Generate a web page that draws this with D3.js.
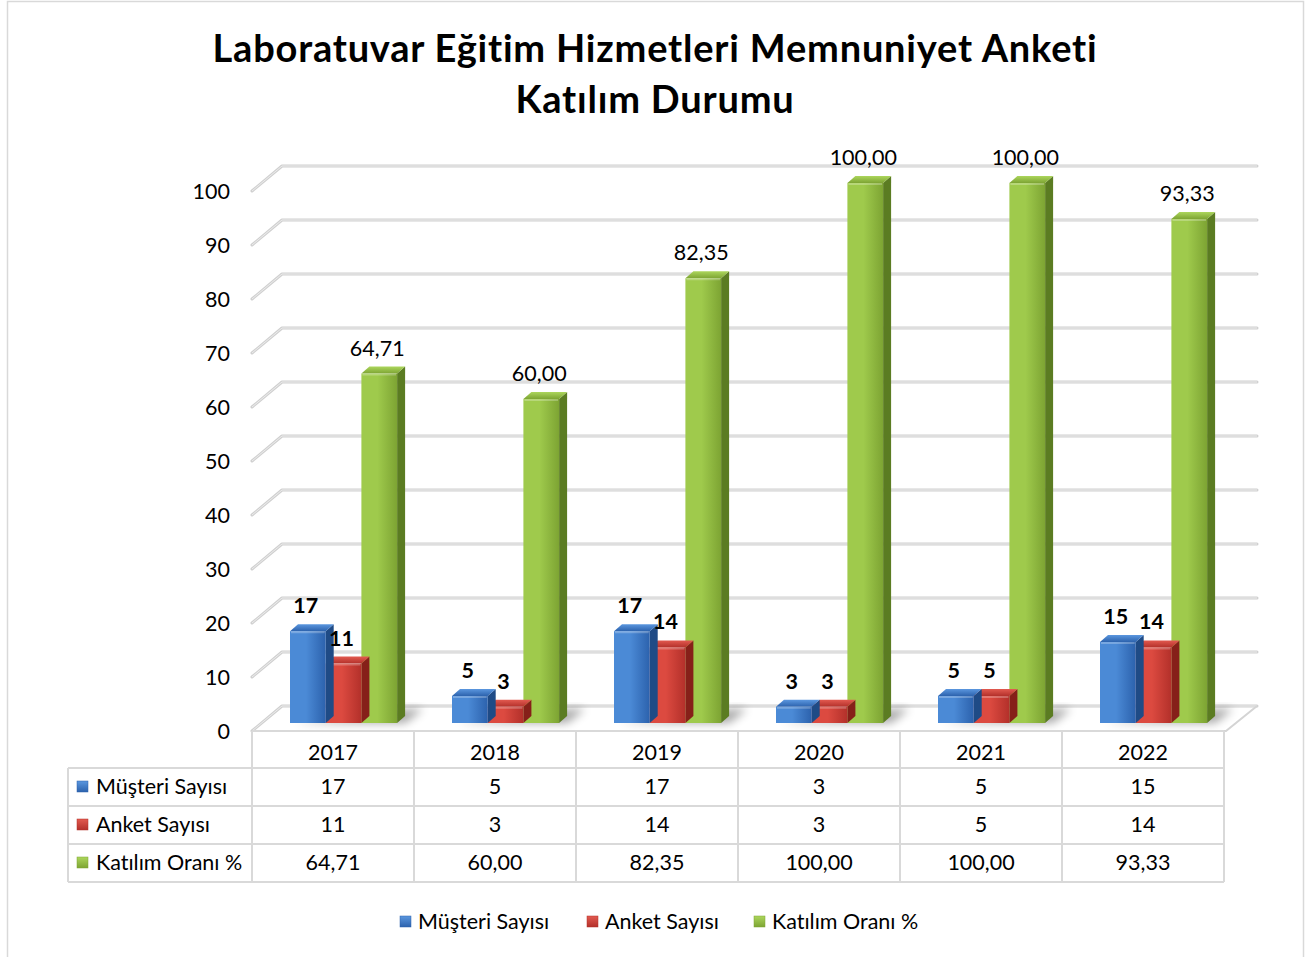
<!DOCTYPE html>
<html><head><meta charset="utf-8">
<script src="https://cdn.jsdelivr.net/npm/d3@7"></script>
<style>body{margin:0;background:#fff;}svg{display:block;font-family:Lato,"Open Sans",sans-serif;font-variant-ligatures:none;}</style>
</head><body>
<svg id="c" width="1312" height="957"></svg>
<script>
const years = ["2017","2018","2019","2020","2021","2022"];
const seriesNames = ["Müşteri Sayısı","Anket Sayısı","Katılım Oranı %"];
const musteri = [17,5,17,3,5,15];
const anket = [11,3,14,3,5,14];
const katilim = [64.71,60.00,82.35,100.00,100.00,93.33];
const yTicks = [0,10,20,30,40,50,60,70,80,90,100];
const titleLines = ["Laboratuvar Eğitim Hizmetleri Memnuniyet Anketi","Katılım Durumu"];

const FS = 21.5;
const series = [
  {name:seriesNames[0], values:musteri, bold:true, fmt:d=>String(d),
   c1:"#4b8ad6", c2:"#2c62ad", top:"#5b97df", side:"#1f4b86"},
  {name:seriesNames[1], values:anket, bold:true, fmt:d=>String(d),
   c1:"#dc4a40", c2:"#b3302a", top:"#e25a50", side:"#862019"},
  {name:seriesNames[2], values:katilim, bold:false, fmt:d=>d.toFixed(2).replace(".",","),
   c1:"#9fca4c", c2:"#7da433", top:"#acd65c", side:"#5b7c22"}
];
const fmtTable = [d=>String(d), d=>String(d), d=>d.toFixed(2).replace(".",",")];

const svg = d3.select("#c");
const defs = svg.append("defs");

// outer border
svg.append("rect").attr("x",7.5).attr("y",1.5).attr("width",1296).attr("height",964)
  .attr("fill","#fff").attr("stroke","#d9d9d9").attr("stroke-width",1.5);

// title
const title = svg.append("text").attr("text-anchor","middle").attr("font-weight","bold")
  .attr("font-size",38).attr("letter-spacing",0.8).attr("fill","#000");
titleLines.forEach((t,i)=>title.append("tspan").attr("x",655).attr("y",62+i*51).text(t));

// geometry
const x = d3.scaleBand().domain(years).range([252,1224]).padding(0);
const y = d3.scaleLinear().domain([0,100]).range([723,183]);   // bar depth plane
const DX = 30;
const yFront = v => y(v)+8;
const yBack = v => y(v)-17;
const bw = 35.7, bd = 8, bdy = 7;
const groupOff = 38;

// walls gridlines
yTicks.forEach(t=>{
  const g = svg.append("g");
  const pts = [[252,yFront(t)],[252+DX,yBack(t)],[1257,yBack(t)]];
  g.append("path").attr("d",d3.line()(pts)).attr("fill","none")
    .attr("stroke","#d0d0d0").attr("stroke-width",3).attr("stroke-linejoin","round").attr("stroke-linecap","round");
  g.append("path").attr("d",d3.line()(pts)).attr("fill","none")
    .attr("stroke","#ececec").attr("stroke-width",1);
});
// floor front edge
svg.append("path").attr("d",d3.line()([[252,731],[1226,731],[1257,706]])).attr("fill","none")
  .attr("stroke","#d4d4d4").attr("stroke-width",2);

// y axis labels
const yAxis = d3.axisLeft(d3.scaleLinear().domain([0,100]).range([yFront(0),yFront(100)]))
  .tickValues(yTicks).tickSize(0).tickPadding(0);
const ax = svg.append("g").attr("transform","translate(230,0)").call(yAxis);
ax.select(".domain").remove();
ax.selectAll("text").attr("font-size",FS).attr("font-family","Lato,'Open Sans',sans-serif").attr("fill","#000").attr("dy","0.35em");

// shadow filter
const f = defs.append("filter").attr("id","sh").attr("x","-50%").attr("y","-50%").attr("width","200%").attr("height","200%");
f.append("feGaussianBlur").attr("stdDeviation",5);

// gradients
series.forEach((s,i)=>{
  const g = defs.append("linearGradient").attr("id","g"+i).attr("x1",0).attr("x2",1).attr("y1",0).attr("y2",0);
  g.append("stop").attr("offset","0%").attr("stop-color",s.c1);
  g.append("stop").attr("offset","45%").attr("stop-color",s.c1);
  g.append("stop").attr("offset","100%").attr("stop-color",s.c2);
  const k = defs.append("linearGradient").attr("id","k"+i).attr("x1",0).attr("x2",0).attr("y1",0).attr("y2",1);
  k.append("stop").attr("offset","0%").attr("stop-color",s.top);
  k.append("stop").attr("offset","100%").attr("stop-color",s.c2);
});

const inner = d3.scaleBand().domain(d3.range(3)).range([0,bw*3]);
// shadows
years.forEach((yr,j)=>{
  const x0 = x(yr)+groupOff;
  svg.append("path").attr("filter","url(#sh)").attr("fill","#000").attr("opacity",0.35)
    .attr("d",d3.line()([[x0+4,y(0)],[x0+bw*3+bd,y(0)],[x0+bw*3+bd+18,y(0)-14],[x0+bw*3+bd+6,y(0)-14]]));
});
// bars
years.forEach((yr,j)=>{
  const x0 = x(yr)+groupOff;
  [2,1,0].forEach(i=>{
    const s = series[i];
    const v = s.values[j];
    const bx = x0+inner(i), top = y(v), bot = y(0);
    const g = svg.append("g");
    g.append("path").attr("fill",s.side)
      .attr("d",d3.line()([[bx+bw,top],[bx+bw+bd,top-bdy],[bx+bw+bd,bot-bdy],[bx+bw,bot]])+"Z");
    g.append("path").attr("fill",`url(#k${i})`)
      .attr("d",d3.line()([[bx,top],[bx+bd,top-bdy],[bx+bw+bd,top-bdy],[bx+bw,top]])+"Z");
    g.append("rect").attr("x",bx).attr("y",top).attr("width",bw).attr("height",bot-top)
      .attr("fill",`url(#g${i})`);
    g.append("line").attr("x1",bx+1).attr("x2",bx+bw-1).attr("y1",top+1).attr("y2",top+1)
      .attr("stroke","#fff").attr("stroke-opacity",0.25).attr("stroke-width",2);
  });
});
// labels
years.forEach((yr,j)=>{
  const x0 = x(yr)+groupOff;
  series.forEach((s,i)=>{
    const v = s.values[j];
    svg.append("text").attr("x",x0+inner(i)+bw/2-2).attr("y",y(v)-18)
      .attr("text-anchor","middle").attr("font-size",FS)
      .attr("font-weight",s.bold?"bold":"normal").attr("fill","#000").text(s.fmt(v));
  });
});

// data table
const rowsY = [731,768,806,844,882];
const tg = svg.append("g");
const lineC = "#d9d9d9";
tg.append("line").attr("x1",252).attr("x2",1224).attr("y1",731).attr("y2",731).attr("stroke",lineC).attr("stroke-width",2);
[768,806,844,882].forEach(yy=>tg.append("line").attr("x1",68).attr("x2",1224).attr("y1",yy).attr("y2",yy).attr("stroke",lineC).attr("stroke-width",2));
x.domain().forEach(d=>tg.append("line").attr("x1",x(d)).attr("x2",x(d)).attr("y1",731).attr("y2",882).attr("stroke",lineC).attr("stroke-width",2));
tg.append("line").attr("x1",1224).attr("x2",1224).attr("y1",731).attr("y2",882).attr("stroke",lineC).attr("stroke-width",2);
tg.append("line").attr("x1",68).attr("x2",68).attr("y1",768).attr("y2",882).attr("stroke",lineC).attr("stroke-width",2);
years.forEach(yr=>tg.append("text").attr("x",x(yr)+x.bandwidth()/2).attr("y",760)
  .attr("text-anchor","middle").attr("font-size",FS).attr("fill","#000").text(yr));
series.forEach((s,i)=>{
  const ry = rowsY[i+1];
  tg.append("rect").attr("x",77).attr("y",ry+13).attr("width",11).attr("height",11)
    .attr("fill",`url(#k${i})`).attr("stroke",s.c2).attr("stroke-width",0.5);
  tg.append("text").attr("x",96).attr("y",ry+26).attr("font-size",FS).attr("fill","#000").text(s.name);
  years.forEach((yr,j)=>tg.append("text").attr("x",x(yr)+x.bandwidth()/2).attr("y",ry+26)
    .attr("text-anchor","middle").attr("font-size",FS).attr("fill","#000").text(fmtTable[i](s.values[j])));
});

// legend
const legX = [400,587,754];
series.forEach((s,i)=>{
  svg.append("rect").attr("x",legX[i]).attr("y",916).attr("width",11).attr("height",11)
    .attr("fill",`url(#k${i})`).attr("stroke",s.c2).attr("stroke-width",0.5);
  svg.append("text").attr("x",legX[i]+18).attr("y",929).attr("font-size",FS).attr("fill","#000").text(s.name);
});
</script>
</body></html>
